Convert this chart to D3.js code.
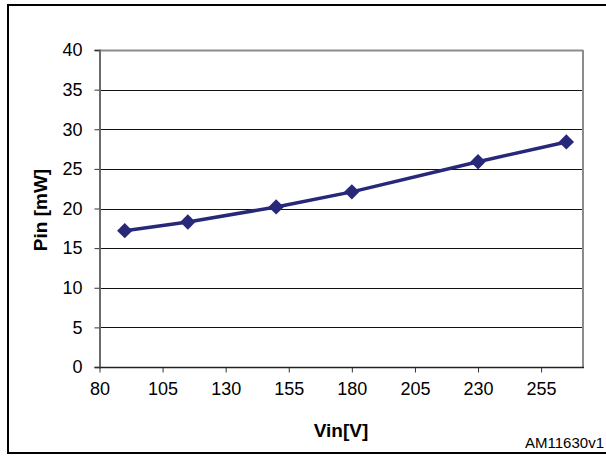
<!DOCTYPE html>
<html>
<head>
<meta charset="utf-8">
<script src="https://cdn.jsdelivr.net/npm/d3@7"></script>
<style>
  html, body { margin: 0; padding: 0; background: #fff; }
  svg { display: block; }
  text { font-family: "Liberation Sans", Arial, sans-serif; }
</style>
</head>
<body>
<script>
const vin = [90, 115, 150, 180, 230, 265];
const pin = [17.2, 18.3, 20.2, 22.1, 25.9, 28.4];
const xTicks = [80, 105, 130, 155, 180, 205, 230, 255];
const yTicks = [0, 5, 10, 15, 20, 25, 30, 35, 40];
const xTitle = "Vin[V]";
const yTitle = "Pin [mW]";
const code = "AM11630v1";

(function () {
const W = 606, H = 457;
const svg = d3.select("body").append("svg").attr("width", W).attr("height", H);

// outer frame
svg.append("rect").attr("x", 8).attr("y", 5).attr("width", 610).attr("height", 448)
  .attr("fill", "none").attr("stroke", "#000").attr("stroke-width", 2);

const pl = 99.5, pr = 582, pt = 50, pb = 367;
const x = d3.scaleLinear().domain([80, 271.2]).range([pl, pr]);
const y = d3.scaleLinear().domain([0, 40]).range([pb, pt]);

// gridlines
svg.append("g").selectAll("line").data(yTicks.filter(d => d > 0 && d < 40)).join("line")
  .attr("x1", pl).attr("x2", pr)
  .attr("y1", d => Math.round(y(d)) + 0.5).attr("y2", d => Math.round(y(d)) + 0.5)
  .attr("stroke", "#111").attr("stroke-width", 1);

// plot frame: top and right gray
svg.append("line").attr("x1", pl).attr("x2", pr + 1).attr("y1", pt + 0.5).attr("y2", pt + 0.5)
  .attr("stroke", "#8c8c8c").attr("stroke-width", 2);
svg.append("line").attr("x1", pr + 1).attr("x2", pr + 1).attr("y1", pt).attr("y2", pb)
  .attr("stroke", "#8c8c8c").attr("stroke-width", 2);

// y axis
const yAxis = svg.append("g").attr("transform", `translate(${pl},0)`)
  .call(d3.axisLeft(y).tickValues(yTicks).tickSize(5).tickPadding(12).tickFormat(d3.format("d")));
yAxis.select(".domain").attr("stroke", "#6b6b6b").attr("stroke-width", 2);
yAxis.selectAll(".tick line").attr("stroke", "#333");
yAxis.selectAll("text").attr("font-size", 18).attr("fill", "#000")
  .style("font-family", "'Liberation Sans', Arial, sans-serif");

// x axis
const xAxis = svg.append("g").attr("transform", `translate(0,${pb + 0.5})`)
  .call(d3.axisBottom(x).tickValues(xTicks).tickSize(5).tickPadding(10).tickFormat(d3.format("d")));
xAxis.select(".domain").attr("stroke", "#222").attr("stroke-width", 1.5).attr("d", `M${pl},0H${pr + 2}`);
xAxis.selectAll(".tick line").attr("stroke", "#333");
xAxis.selectAll("text").attr("font-size", 18).attr("fill", "#000")
  .style("font-family", "'Liberation Sans', Arial, sans-serif");

// line
const data = vin.map((v, i) => [v, pin[i]]);
svg.append("path").datum(data)
  .attr("d", d3.line().x(d => x(d[0])).y(d => y(d[1])))
  .attr("fill", "none").attr("stroke", "#28287a").attr("stroke-width", 3.5);

// diamond markers
svg.append("g").selectAll("path").data(data).join("path")
  .attr("transform", d => `translate(${x(d[0])},${y(d[1])})`)
  .attr("d", d3.symbol().type(d3.symbolDiamond2).size(150))
  .attr("fill", "#28287a");

// titles
svg.append("text").attr("x", 341).attr("y", 437).attr("text-anchor", "middle")
  .attr("font-size", 19).attr("font-weight", "bold").text(xTitle);
svg.append("text").attr("transform", "translate(47,210) rotate(-90)").attr("text-anchor", "middle")
  .attr("font-size", 19).attr("font-weight", "bold").text(yTitle);
svg.append("text").attr("x", 604).attr("y", 448).attr("text-anchor", "end")
  .attr("font-size", 15).text(code);
})();
</script>
</body>
</html>
